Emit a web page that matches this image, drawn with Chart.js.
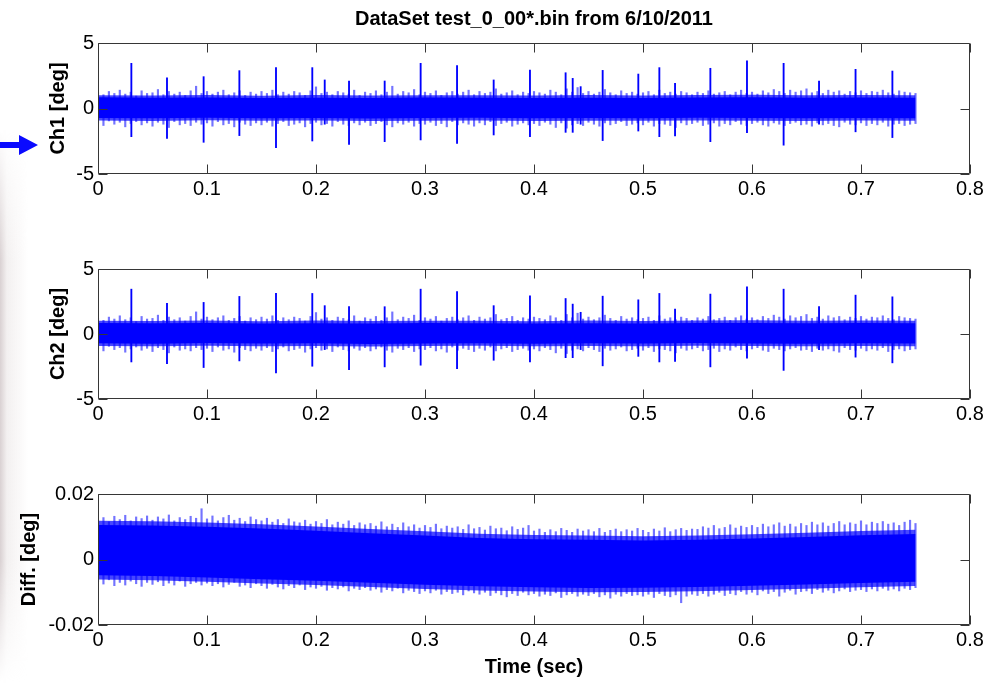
<!DOCTYPE html>
<html>
<head>
<meta charset="utf-8">
<script src="https://cdn.jsdelivr.net/npm/chart.js@4.4.1/dist/chart.umd.min.js"></script>
<style>
html,body{margin:0;padding:0;background:#fff;}
body{width:1004px;height:683px;position:relative;overflow:hidden;}
canvas{position:absolute;left:0;}
#edge{position:absolute;left:0;top:0;width:36px;height:683px;
  background:linear-gradient(to right, rgba(205,194,196,0.75) 0px, rgba(228,222,222,0.45) 7px, rgba(255,255,255,0) 28px);
  -webkit-mask-image:linear-gradient(to bottom, transparent 0, transparent 130px, black 260px, black 560px, transparent 683px);
  mask-image:linear-gradient(to bottom, transparent 0, transparent 130px, black 260px, black 560px, transparent 683px);}
</style>
</head>
<body>
<div id="edge"></div>
<canvas id="c1" width="1004" height="230" style="top:0px"></canvas>
<canvas id="c2" width="1004" height="225" style="top:230px"></canvas>
<canvas id="c3" width="1004" height="228" style="top:455px"></canvas>
<script>
// ---------------- data ----------------
const chartTitle = 'DataSet test_0_00*.bin from 6/10/2011';
const xTickValues = [0, 0.1, 0.2, 0.3, 0.4, 0.5, 0.6, 0.7, 0.8];
const xTickLabels = ['0', '0.1', '0.2', '0.3', '0.4', '0.5', '0.6', '0.7', '0.8'];
const chYTicks = [-5, 0, 5];
const chYTickLabels = ['-5', '0', '5'];
const diffYTicks = [-0.02, 0, 0.02];
const diffYTickLabels = ['-0.02', '0', '0.02'];

const binStep = 0.005;   // envelope bins (s)
const coreStep = 0.05;   // dense core band samples (s)

// Ch1: solid core band and dense halo (every 0.05 s)
const ch1CoreHi = [0.85, 0.82, 0.84, 0.80, 0.83, 0.81, 0.84, 0.82, 0.80, 0.83, 0.81, 0.84, 0.85, 0.83, 0.84, 0.82];
const ch1CoreLo = [-0.72, -0.75, -0.70, -0.74, -0.72, -0.76, -0.73, -0.71, -0.75, -0.72, -0.74, -0.70, -0.73, -0.75, -0.72, -0.74];
const ch1HaloHi = [1.02, 1.00, 1.04, 0.98, 1.03, 1.00, 1.02, 1.01, 0.99, 1.03, 1.00, 1.04, 1.05, 1.02, 1.04, 1.01];
const ch1HaloLo = [-0.92, -0.95, -0.90, -0.94, -0.92, -0.96, -0.93, -0.91, -0.95, -0.93, -0.94, -0.91, -0.93, -0.95, -0.92, -0.94];
// Ch1: ragged envelope per 0.005 s bin
const ch1Hi = [
 1.20, 1.05, 1.30, 1.15, 1.40, 1.10, 1.25, 0.95, 1.35, 1.15,
 1.20, 1.45, 1.05, 1.30, 1.10, 1.25, 1.00, 1.35, 1.70, 1.15,
 1.30, 1.10, 1.25, 1.40, 1.05, 1.20, 1.35, 1.00, 1.25, 1.10,
 1.30, 1.15, 1.40, 1.05, 1.25, 1.10, 1.30, 1.20, 1.00, 1.35,
 1.65, 1.15, 1.25, 1.05, 1.30, 1.20, 1.10, 1.40, 1.00, 1.25,
 1.15, 1.35, 1.05, 1.25, 1.70, 1.10, 1.30, 1.20, 1.45, 1.05,
 1.25, 1.15, 1.35, 1.00, 1.20, 1.30, 1.10, 1.25, 1.40, 1.05,
 1.30, 1.15, 1.25, 1.50, 1.10, 1.20, 1.35, 1.05, 1.25, 1.15,
 1.30, 1.20, 1.10, 1.40, 1.25, 1.05, 1.50, 1.25, 1.60, 1.15,
 1.30, 1.10, 1.25, 1.45, 1.20, 1.05, 1.35, 1.15, 1.25, 1.10,
 1.20, 1.30, 1.05, 1.40, 1.15, 1.25, 1.10, 1.30, 1.20, 1.05,
 1.25, 1.15, 1.35, 1.10, 1.20, 1.30, 1.05, 1.25, 1.40, 1.15,
 1.25, 1.10, 1.35, 1.20, 1.45, 1.30, 1.15, 1.40, 1.25, 1.35,
 1.50, 1.20, 1.30, 1.15, 1.40, 1.25, 1.35, 1.10, 1.30, 1.20,
 1.35, 1.15, 1.30, 1.25, 1.40, 1.20, 1.10, 1.35, 1.25, 1.20,
 1.15];
const ch1Lo = [
 -1.10, -1.30, -0.95, -1.20, -1.05, -1.40, -1.15, -1.00, -1.25, -1.10,
 -1.35, -1.05, -1.20, -1.45, -1.00, -1.25, -1.15, -1.30, -1.05, -1.20,
 -1.10, -1.35, -1.00, -1.25, -1.15, -1.40, -1.05, -1.20, -1.30, -1.10,
 -1.25, -1.05, -1.35, -1.15, -1.00, -1.30, -1.20, -1.10, -1.40, -1.15,
 -1.05, -1.25, -1.15, -1.35, -1.00, -1.20, -1.30, -1.10, -1.25, -1.05,
 -1.30, -1.15, -1.00, -1.25, -1.40, -1.10, -1.20, -1.05, -1.35, -1.15,
 -1.20, -1.05, -1.30, -1.15, -1.40, -1.00, -1.25, -1.10, -1.20, -1.35,
 -1.10, -1.25, -1.00, -1.30, -1.15, -1.05, -1.35, -1.20, -1.10, -1.25,
 -1.15, -1.30, -1.05, -1.20, -1.45, -1.10, -1.50, -1.25, -1.15, -1.30,
 -1.05, -1.20, -1.35, -1.10, -1.25, -1.15, -1.00, -1.30, -1.20, -1.10,
 -1.25, -1.05, -1.35, -1.15, -1.20, -1.30, -1.45, -1.10, -1.25, -1.15,
 -1.05, -1.30, -1.20, -1.10, -1.35, -1.15, -1.25, -1.00, -1.20, -1.30,
 -1.15, -1.05, -1.25, -1.35, -1.10, -1.20, -1.30, -1.15, -1.05, -1.25,
 -1.20, -1.35, -1.10, -1.25, -1.15, -1.30, -1.40, -1.05, -1.20, -1.25,
 -1.10, -1.30, -1.15, -1.25, -1.05, -1.35, -1.20, -1.15, -1.30, -1.20,
 -1.15];
// Ch1: periodic spikes (time, top, bottom)
const ch1SpikeT  = [0.0306, 0.0633, 0.0969, 0.1297, 0.1633, 0.1966, 0.2080, 0.2303, 0.2630, 0.2960, 0.3294, 0.3630, 0.3963, 0.4290, 0.4355, 0.4428, 0.4630, 0.4957, 0.5150, 0.5294, 0.5618, 0.5954, 0.6290, 0.6615, 0.6950, 0.7288];
const ch1SpikeHi = [3.45, 2.35, 2.43, 2.89, 3.12, 3.12, 2.18, 2.10, 2.10, 3.45, 3.27, 2.18, 2.94, 2.73, 2.30, 1.67, 2.91, 2.63, 3.12, 1.92, 3.07, 3.63, 3.45, 2.10, 2.99, 2.86];
const ch1SpikeLo = [-2.15, -2.28, -2.58, -2.07, -2.99, -2.48, -1.20, -2.74, -2.53, -2.40, -2.66, -2.02, -2.15, -1.82, -1.82, -1.20, -2.45, -1.72, -2.15, -2.10, -2.53, -1.85, -2.80, -1.20, -1.78, -2.22];

// Ch2 reads the same as Ch1 in the figure
const ch2CoreHi = ch1CoreHi.slice();
const ch2CoreLo = ch1CoreLo.slice();
const ch2HaloHi = ch1HaloHi.slice();
const ch2HaloLo = ch1HaloLo.slice();
const ch2Hi = ch1Hi.slice();
const ch2Lo = ch1Lo.slice();
const ch2SpikeT = ch1SpikeT.slice();
const ch2SpikeHi = ch1SpikeHi.slice();
const ch2SpikeLo = ch1SpikeLo.slice();

// Diff: solid core band and dense halo (every 0.05 s)
const diffCoreHi = [0.0105, 0.0104, 0.0100, 0.0095, 0.0088, 0.0080, 0.0073, 0.0066, 0.0062, 0.0060, 0.0058, 0.0060, 0.0064, 0.0069, 0.0074, 0.0078];
const diffCoreLo = [-0.0048, -0.0050, -0.0055, -0.0060, -0.0065, -0.0071, -0.0077, -0.0082, -0.0085, -0.0087, -0.0086, -0.0084, -0.0080, -0.0076, -0.0072, -0.0068];
const diffHaloHi = [0.0118, 0.0117, 0.0113, 0.0108, 0.0101, 0.0093, 0.0086, 0.0079, 0.0075, 0.0073, 0.0071, 0.0073, 0.0077, 0.0082, 0.0087, 0.0091];
const diffHaloLo = [-0.0061, -0.0063, -0.0068, -0.0073, -0.0078, -0.0084, -0.0090, -0.0095, -0.0098, -0.0100, -0.0099, -0.0097, -0.0093, -0.0089, -0.0085, -0.0081];
// Diff: ragged envelope per 0.005 s bin
const diffHi = [
 0.0120, 0.0128, 0.0115, 0.0132, 0.0122, 0.0135, 0.0118, 0.0130, 0.0125, 0.0133,
 0.0120, 0.0130, 0.0124, 0.0136, 0.0118, 0.0128, 0.0122, 0.0132, 0.0126, 0.0155,
 0.0124, 0.0133, 0.0118, 0.0128, 0.0135, 0.0120, 0.0126, 0.0116, 0.0130, 0.0122,
 0.0118, 0.0126, 0.0114, 0.0122, 0.0110, 0.0124, 0.0115, 0.0112, 0.0120, 0.0108,
 0.0116, 0.0110, 0.0122, 0.0106, 0.0114, 0.0108, 0.0118, 0.0104, 0.0112, 0.0106,
 0.0110, 0.0102, 0.0115, 0.0100, 0.0108, 0.0098, 0.0112, 0.0100, 0.0106, 0.0096,
 0.0104, 0.0098, 0.0108, 0.0094, 0.0102, 0.0096, 0.0100, 0.0092, 0.0106, 0.0094,
 0.0098, 0.0090, 0.0102, 0.0094, 0.0096, 0.0088, 0.0100, 0.0092, 0.0096, 0.0104,
 0.0087, 0.0093, 0.0083, 0.0091, 0.0085, 0.0095, 0.0089, 0.0083, 0.0093, 0.0087,
 0.0091, 0.0085, 0.0095, 0.0083, 0.0089, 0.0093, 0.0085, 0.0091, 0.0087, 0.0095,
 0.0089, 0.0083, 0.0093, 0.0087, 0.0097, 0.0085, 0.0091, 0.0095, 0.0089, 0.0093,
 0.0092, 0.0100, 0.0096, 0.0104, 0.0094, 0.0098, 0.0106, 0.0096, 0.0102, 0.0098,
 0.0104, 0.0098, 0.0108, 0.0100, 0.0106, 0.0112, 0.0102, 0.0108, 0.0100, 0.0110,
 0.0104, 0.0114, 0.0106, 0.0112, 0.0102, 0.0110, 0.0116, 0.0106, 0.0112, 0.0108,
 0.0118, 0.0106, 0.0114, 0.0110, 0.0116, 0.0108, 0.0112, 0.0104, 0.0114, 0.0120,
 0.0110];
const diffLo = [
 -0.0068, -0.0075, -0.0062, -0.0080, -0.0070, -0.0078, -0.0066, -0.0074, -0.0082, -0.0070,
 -0.0076, -0.0068, -0.0080, -0.0072, -0.0078, -0.0066, -0.0082, -0.0074, -0.0070, -0.0078,
 -0.0072, -0.0080, -0.0074, -0.0084, -0.0076, -0.0070, -0.0082, -0.0078, -0.0086, -0.0074,
 -0.0080, -0.0088, -0.0076, -0.0084, -0.0090, -0.0080, -0.0086, -0.0078, -0.0092, -0.0084,
 -0.0088, -0.0082, -0.0094, -0.0086, -0.0090, -0.0084, -0.0096, -0.0088, -0.0092, -0.0086,
 -0.0094, -0.0090, -0.0100, -0.0092, -0.0096, -0.0088, -0.0102, -0.0094, -0.0098, -0.0104,
 -0.0096, -0.0102, -0.0094, -0.0106, -0.0098, -0.0104, -0.0100, -0.0108, -0.0096, -0.0102,
 -0.0106, -0.0100, -0.0110, -0.0102, -0.0108, -0.0114, -0.0104, -0.0110, -0.0100, -0.0108,
 -0.0104, -0.0112, -0.0106, -0.0110, -0.0102, -0.0116, -0.0108, -0.0104, -0.0112, -0.0106,
 -0.0110, -0.0104, -0.0114, -0.0108, -0.0118, -0.0106, -0.0112, -0.0104, -0.0110, -0.0108,
 -0.0112, -0.0106, -0.0116, -0.0104, -0.0110, -0.0114, -0.0108, -0.0132, -0.0112, -0.0106,
 -0.0110, -0.0104, -0.0112, -0.0106, -0.0100, -0.0110, -0.0104, -0.0108, -0.0098, -0.0106,
 -0.0100, -0.0108, -0.0096, -0.0104, -0.0098, -0.0112, -0.0100, -0.0094, -0.0106, -0.0098,
 -0.0096, -0.0104, -0.0092, -0.0100, -0.0094, -0.0102, -0.0096, -0.0090, -0.0098, -0.0094,
 -0.0092, -0.0098, -0.0090, -0.0096, -0.0088, -0.0094, -0.0090, -0.0096, -0.0088, -0.0092,
 -0.0086];
const diffSpikeT = [];
const diffSpikeHi = [];
const diffSpikeLo = [];

// ---------------- drawing ----------------
const FONT = "'Liberation Sans', Arial, Helvetica, sans-serif";
const BLUE = '#0000ff';

const frameTicks = {
  id: 'frameTicks',
  afterDatasetsDraw(chart) {
    const {ctx, chartArea: a, scales: {x, y}} = chart;
    const L = Math.round(a.left) + 0.5, R = Math.round(a.right) - 0.5;
    const T = Math.round(a.top) + 0.5, B = Math.round(a.bottom) - 0.5;
    ctx.save();
    ctx.strokeStyle = '#363636';
    ctx.lineWidth = 1;
    ctx.beginPath();
    ctx.rect(L, T, R - L, B - T);
    x.ticks.forEach(t => {
      const px = Math.round(x.getPixelForValue(t.value)) + 0.5;
      ctx.moveTo(px, B); ctx.lineTo(px, B - 9);
      ctx.moveTo(px, T); ctx.lineTo(px, T + 9);
    });
    y.ticks.forEach(t => {
      const py = Math.round(y.getPixelForValue(t.value)) + 0.5;
      ctx.moveTo(L, py); ctx.lineTo(L + 9, py);
      ctx.moveTo(R, py); ctx.lineTo(R - 9, py);
    });
    ctx.stroke();
    ctx.restore();
  }
};

const headerPlugin = {
  id: 'header',
  afterDraw(chart) {
    const {ctx, chartArea: a} = chart;
    ctx.save();
    ctx.fillStyle = '#000';
    ctx.font = 'bold 20px ' + FONT;
    ctx.textAlign = 'center';
    ctx.textBaseline = 'middle';
    ctx.fillText(chartTitle, (a.left + a.right) / 2, 19);
    // pointer arrow at the left edge
    ctx.fillStyle = '#0a0aff';
    ctx.beginPath();
    ctx.moveTo(0, 142); ctx.lineTo(19, 142); ctx.lineTo(19, 135);
    ctx.lineTo(38, 145); ctx.lineTo(19, 155); ctx.lineTo(19, 148);
    ctx.lineTo(0, 148); ctx.closePath();
    ctx.fill();
    ctx.restore();
  }
};

function makePanel(id, cfg) {
  const band = arr => arr.map((v, i) => ({x: i * coreStep, y: v}));
  const bins = cfg.hi.map((h, i) => ({x: i * binStep, y: [cfg.lo[i], h]}));
  const spikes = cfg.spT.map((t, i) => ({x: t, y: [cfg.spLo[i], cfg.spHi[i]]}));
  const plugins = [frameTicks];
  if (cfg.header) plugins.push(headerPlugin);
  const line = (data, fill, color, order) => ({type: 'line', data, borderWidth: 0, pointRadius: 0,
    fill, borderColor: color, backgroundColor: color, order});
  return new Chart(document.getElementById(id), {
    type: 'bar',
    data: {
      datasets: [
        line(band(cfg.haloLo), false, 'rgba(0,0,255,0.72)', 5),
        line(band(cfg.haloHi), '-1', 'rgba(0,0,255,0.72)', 5),
        line(band(cfg.coreLo), false, BLUE, 4),
        line(band(cfg.coreHi), '-1', BLUE, 4),
        {data: bins, backgroundColor: 'rgba(0,0,255,0.55)', barThickness: 1.5, grouped: false, order: 2},
        {data: spikes, backgroundColor: BLUE, barThickness: 1.2, grouped: false, order: 1}
      ]
    },
    options: {
      responsive: false,
      animation: false,
      events: [],
      layout: {padding: {left: 0, right: 34, top: cfg.top, bottom: 0}},
      plugins: {legend: {display: false}, tooltip: {enabled: false}, title: {display: false}},
      scales: {
        x: {
          type: 'linear', min: 0, max: 0.8, offset: false,
          grid: {display: false, drawTicks: false}, border: {display: false},
          afterBuildTicks: s => { s.ticks = xTickValues.map(v => ({value: v})); },
          ticks: {callback: (v, i) => xTickLabels[i], color: '#000', font: {family: FONT, size: 20},
                  padding: 3, maxRotation: 0, autoSkip: false},
          title: cfg.xTitle ? {display: true, text: cfg.xTitle, color: '#000',
                  font: {family: FONT, size: 20, weight: 'bold'}, padding: {top: 0, bottom: 4}} : {display: false},
          afterFit: s => { s.height = cfg.h - cfg.bottom; }
        },
        y: {
          type: 'linear', min: cfg.yMin, max: cfg.yMax,
          grid: {display: false, drawTicks: false}, border: {display: false},
          afterBuildTicks: s => { s.ticks = cfg.yTicks.map(v => ({value: v})); },
          ticks: {callback: (v, i) => cfg.yLabels[i], color: '#000', font: {family: FONT, size: 20}, padding: 4},
          title: {display: true, text: cfg.yTitle, color: '#000',
                  font: {family: FONT, size: 20, weight: 'bold'}, padding: {top: cfg.yTitlePad, bottom: 0}},
          afterFit: s => { s.width = 98; }
        }
      }
    },
    plugins
  });
}

makePanel('c1', {h: 230, top: 43, bottom: 174, header: true,
  coreHi: ch1CoreHi, coreLo: ch1CoreLo, haloHi: ch1HaloHi, haloLo: ch1HaloLo, hi: ch1Hi, lo: ch1Lo,
  spT: ch1SpikeT, spHi: ch1SpikeHi, spLo: ch1SpikeLo,
  yMin: -5, yMax: 5, yTicks: chYTicks, yLabels: chYTickLabels, yTitle: 'Ch1 [deg]', yTitlePad: 46});
makePanel('c2', {h: 225, top: 39, bottom: 169,
  coreHi: ch2CoreHi, coreLo: ch2CoreLo, haloHi: ch2HaloHi, haloLo: ch2HaloLo, hi: ch2Hi, lo: ch2Lo,
  spT: ch2SpikeT, spHi: ch2SpikeHi, spLo: ch2SpikeLo,
  yMin: -5, yMax: 5, yTicks: chYTicks, yLabels: chYTickLabels, yTitle: 'Ch2 [deg]', yTitlePad: 46});
makePanel('c3', {h: 228, top: 39, bottom: 170, xTitle: 'Time (sec)',
  coreHi: diffCoreHi, coreLo: diffCoreLo, haloHi: diffHaloHi, haloLo: diffHaloLo, hi: diffHi, lo: diffLo,
  spT: diffSpikeT, spHi: diffSpikeHi, spLo: diffSpikeLo,
  yMin: -0.02, yMax: 0.02, yTicks: diffYTicks, yLabels: diffYTickLabels, yTitle: 'Diff. [deg]', yTitlePad: 17});
</script>
</body>
</html>
